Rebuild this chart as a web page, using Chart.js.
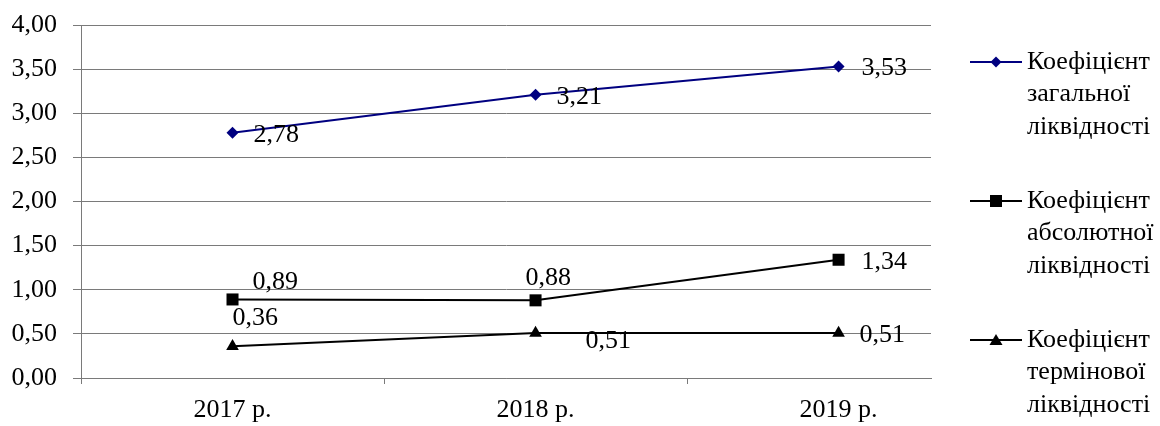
<!DOCTYPE html>
<html><head><meta charset="utf-8">
<script src="https://cdn.jsdelivr.net/npm/chart.js@4.4.1/dist/chart.umd.min.js"></script>
<style>html,body{margin:0;padding:0;background:#fff;}#wrap{width:1160px;height:426px;position:relative;}</style>
</head><body><div id="wrap"><canvas id="c" width="1160" height="426"></canvas></div>
<script>
const categories = ['2017 р.', '2018 р.', '2019 р.'];
const seriesNames = ['Коефіцієнт загальної ліквідності', 'Коефіцієнт абсолютної ліквідності', 'Коефіцієнт термінової ліквідності'];
const generalLiquidity = [2.78, 3.21, 3.53];
const absoluteLiquidity = [0.89, 0.88, 1.34];
const quickLiquidity = [0.36, 0.51, 0.51];
const yTickValues = [0, 0.5, 1, 1.5, 2, 2.5, 3, 3.5, 4];

// styling (not data)
const FONT_FAMILY = "'Liberation Serif', 'Times New Roman', serif";
const FONT_SIZE = 26;
const labelOffsets = [
  [[21, 3], [21, 2], [23, 2]],
  [[20, -17], [-10, -22], [23, 2]],
  [[0, -28], [50, 8], [21, 2]]
];
const fmt = v => v.toFixed(2).replace('.', ',');

function drawMarker(ctx, style, x, y, color) {
  ctx.fillStyle = color;
  ctx.beginPath();
  if (style === 'rectRot') {
    const r = 5.5;
    ctx.moveTo(x - r, y); ctx.lineTo(x, y - r); ctx.lineTo(x + r, y); ctx.lineTo(x, y + r);
  } else if (style === 'rect') {
    const s = 6;
    ctx.rect(x - s, y - s, 2 * s, 2 * s);
  } else {
    ctx.moveTo(x, y - 6); ctx.lineTo(x + 6.5, y + 5); ctx.lineTo(x - 6.5, y + 5);
  }
  ctx.closePath();
  ctx.fill();
}

const overlay = {
  id: 'overlay',
  afterDatasetsDraw(chart) {
    const ctx = chart.ctx;
    ctx.save();
    ctx.font = FONT_SIZE + 'px ' + FONT_FAMILY;
    ctx.fillStyle = '#000';
    ctx.textBaseline = 'middle';
    ctx.textAlign = 'left';
    chart.data.datasets.forEach((ds, di) => {
      const meta = chart.getDatasetMeta(di);
      meta.data.forEach((pt, pi) => {
        const off = labelOffsets[di][pi];
        ctx.fillText(fmt(ds.data[pi].y), pt.x + off[0], pt.y + off[1]);
      });
    });
    // legend
    const lx0 = 970, lx1 = 1022, tx = 1027, top = 62, step = 139, lh = 32.5;
    chart.data.datasets.forEach((ds, di) => {
      const y = top + di * step;
      ctx.strokeStyle = ds.borderColor;
      ctx.lineWidth = 2;
      ctx.beginPath(); ctx.moveTo(lx0, y); ctx.lineTo(lx1, y); ctx.stroke();
      drawMarker(ctx, ds.pointStyle, (lx0 + lx1) / 2, y, ds.borderColor);
      ctx.fillStyle = '#000';
      ds.label.split(' ').forEach((w, li) => ctx.fillText(w, tx, y + li * lh));
    });
    ctx.restore();
  }
};

const toPts = arr => arr.map((v, i) => ({ x: i, y: v }));

new Chart(document.getElementById('c'), {
  type: 'line',
  data: {
    datasets: [
      { label: seriesNames[0], data: toPts(generalLiquidity), borderColor: '#000080', backgroundColor: '#000080',
        borderWidth: 2, pointStyle: 'rectRot', pointRadius: 6, pointBorderWidth: 0, pointBackgroundColor: '#000080', clip: false },
      { label: seriesNames[1], data: toPts(absoluteLiquidity), borderColor: '#000000', backgroundColor: '#000000',
        borderWidth: 2, pointStyle: 'rect', pointRadius: 8.5, pointBorderWidth: 0, pointBackgroundColor: '#000000', clip: false },
      { label: seriesNames[2], data: toPts(quickLiquidity), borderColor: '#000000', backgroundColor: '#000000',
        borderWidth: 2, pointStyle: 'triangle', pointRadius: 7.3, pointBorderWidth: 0, pointBackgroundColor: '#000000', clip: false }
    ]
  },
  options: {
    responsive: false,
    animation: false,
    devicePixelRatio: 1,
    layout: { padding: { left: 0, right: 229, top: 25, bottom: 0 } },
    plugins: { legend: { display: false }, tooltip: { enabled: false } },
    scales: {
      x: {
        type: 'linear',
        min: -0.5,
        max: 2.305,
        afterBuildTicks: s => { s.ticks = categories.map((_, i) => ({ value: i })); },
        afterFit: s => { s.height = 48; s.paddingLeft = 0; s.paddingRight = 0; },
        ticks: {
          callback: v => categories[v],
          font: { family: FONT_FAMILY, size: FONT_SIZE },
          color: '#000',
          padding: 11,
          maxRotation: 0,
          autoSkip: false
        },
        grid: { offset: true, drawOnChartArea: false, drawTicks: true, tickLength: 6, color: '#7a7a7a' },
        border: { display: true, color: '#7a7a7a' }
      },
      y: {
        min: 0,
        max: 4,
        afterBuildTicks: s => { s.ticks = yTickValues.map(v => ({ value: v })); },
        afterFit: s => { s.width = 81; s.paddingTop = 0; s.paddingBottom = 0; },
        ticks: {
          callback: v => fmt(v),
          font: { family: FONT_FAMILY, size: FONT_SIZE },
          color: '#000',
          padding: 16
        },
        grid: { color: '#7a7a7a', tickLength: 8 },
        border: { display: true, color: '#7a7a7a' }
      }
    }
  },
  plugins: [overlay]
});
</script>
</body></html>
